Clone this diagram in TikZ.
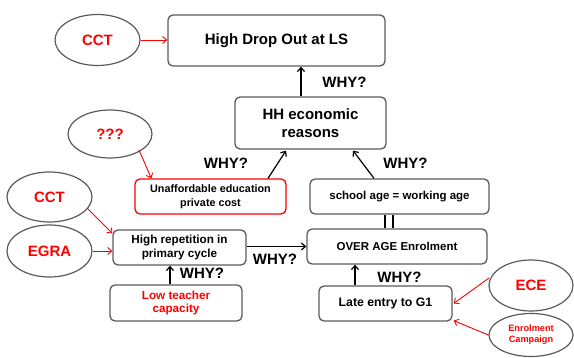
\documentclass[tikz,border=0pt]{standalone}
\usepackage{fontspec}
\setmainfont{Liberation Sans}
\usetikzlibrary{calc,arrows.meta,shapes.geometric}
\definecolor{bord}{HTML}{5A5A5A}
\definecolor{myred}{HTML}{FF0000}
\tikzset{
  box/.style={draw=bord, line width=1.3pt, rounded corners=5pt, inner sep=0pt, align=center, font=\bfseries\fontsize{11.5}{14}\selectfont},
  rbox/.style={box, draw=myred},
  oval/.style={ellipse, draw=bord, line width=1.2pt, inner sep=0pt, text=myred, font=\bfseries\fontsize{15}{18}\selectfont, align=center},
  why/.style={inner sep=0pt, font=\bfseries\fontsize{15}{18}\selectfont},
  blk/.style={line width=1.2pt, -{Straight Barb[length=4pt,width=7pt]}},
  redarr/.style={draw=myred, line width=0.9pt, -{Straight Barb[length=4pt,width=7pt]}}
}
\begin{document}
\begin{tikzpicture}[x=1pt,y=-1pt]
\useasboundingbox (0,0) rectangle (574,358);
% boxes
\node[box, minimum width=217pt, minimum height=51pt, font=\bfseries\fontsize{15}{18}\selectfont] (hdo) at (276.5,40.5) {High Drop Out at LS};
\node[box, minimum width=151pt, minimum height=52pt, font=\bfseries\fontsize{15}{18}\selectfont] (hh) at (310.5,123) {HH economic\\reasons};
\node[rbox, minimum width=151pt, minimum height=35pt, font=\bfseries\fontsize{10.8}{13.5}\selectfont] (unaf) at (210.5,196.5) {Unaffordable education\\private cost};
\node[box, minimum width=179pt, minimum height=35pt] (school) at (399.5,196.5) {school age = working age};
\node[box, minimum width=180pt, minimum height=35pt] (over) at (397,246.5) {OVER AGE Enrolment};
\node[box, minimum width=133pt, minimum height=35pt, font=\bfseries\fontsize{11.7}{14}\selectfont] (hr) at (179.5,247.5) {High repetition in\\primary cycle};
\node[box, minimum width=132pt, minimum height=36pt, text=myred, font=\bfseries\fontsize{11.7}{13.5}\selectfont] (low) at (176,303) {Low teacher\\capacity};
\node[box, minimum width=133pt, minimum height=35pt, font=\bfseries\fontsize{12.3}{14}\selectfont] (late) at (385.5,303.5) {Late entry to G1};
% ellipses
\node[oval, minimum width=85pt, minimum height=51pt] (cct1) at (97.5,40) {CCT};
\node[oval, minimum width=84pt, minimum height=48pt] (q) at (110,134) {???};
\node[oval, minimum width=85pt, minimum height=50pt] (cct2) at (49.5,197) {CCT};
\node[oval, minimum width=85pt, minimum height=52pt] (egra) at (49.5,251) {EGRA};
\node[oval, minimum width=84pt, minimum height=51pt] (ece) at (531,285.5) {ECE};
\node[oval, minimum width=84pt, minimum height=43pt, font=\bfseries\fontsize{9.2}{11}\selectfont] (ec) at (531,335) {Enrolment\\Campaign};
% WHY labels
\node[why] (w1) at (344.5,82) {WHY?};
\node[why] (w2) at (226,163) {WHY?};
\node[why] (w3) at (405.5,163) {WHY?};
\node[why] (w4) at (275,259) {WHY?};
\node[why] (w5) at (202,273.5) {WHY?};
\node[why] (w6) at (399.5,277) {WHY?};
% black connectors
\coordinate (a1) at ($(hh.north)+(-9.5,0)$);
\draw[blk] (a1) -- (a1 |- hdo.south);
\draw[blk] ($(unaf.north)+(57.5,0)$) -- ($(hh.south)+(-24.5,1)$);
\draw[blk] ($(school.north)+(-25.5,0)$) -- ($(hh.south)+(42.5,1)$);
\coordinate (d1) at ($(school.south)+(-14.5,0)$);
\coordinate (d2) at ($(school.south)+(-6.5,0)$);
\draw[line width=1.2pt] (d1) -- (d1 |- over.north);
\draw[line width=1.2pt] (d2) -- (d2 |- over.north);
\draw[blk] (hr.east |- over.west) -- (over.west);
\coordinate (l1) at ($(low.north)+(-6,0)$);
\draw[blk] (l1) -- (l1 |- hr.south);
\coordinate (e1) at ($(late.north)+(-30.5,0)$);
\draw[blk] (e1) -- (e1 |- over.south);
% red connectors
\draw[redarr] (cct1.east) -- (cct1.east -| hdo.west);
\draw[redarr] ($(q.center)+(29,16)$) -- ($(unaf.north west)+(17,0)$);
\draw[redarr] ($(cct2.center)+(38.5,12)$) -- ($(hr.north west)+(0,4)$);
\draw[redarr] (egra.east) -- (egra.east -| hr.west);
\draw[redarr] ($(ece.center)+(-42,-7.5)$) -- ($(late.east)+(1,0)$);
\draw[redarr] (ec.west) -- ($(late.south east)+(1,-1)$);
\end{tikzpicture}
\end{document}
